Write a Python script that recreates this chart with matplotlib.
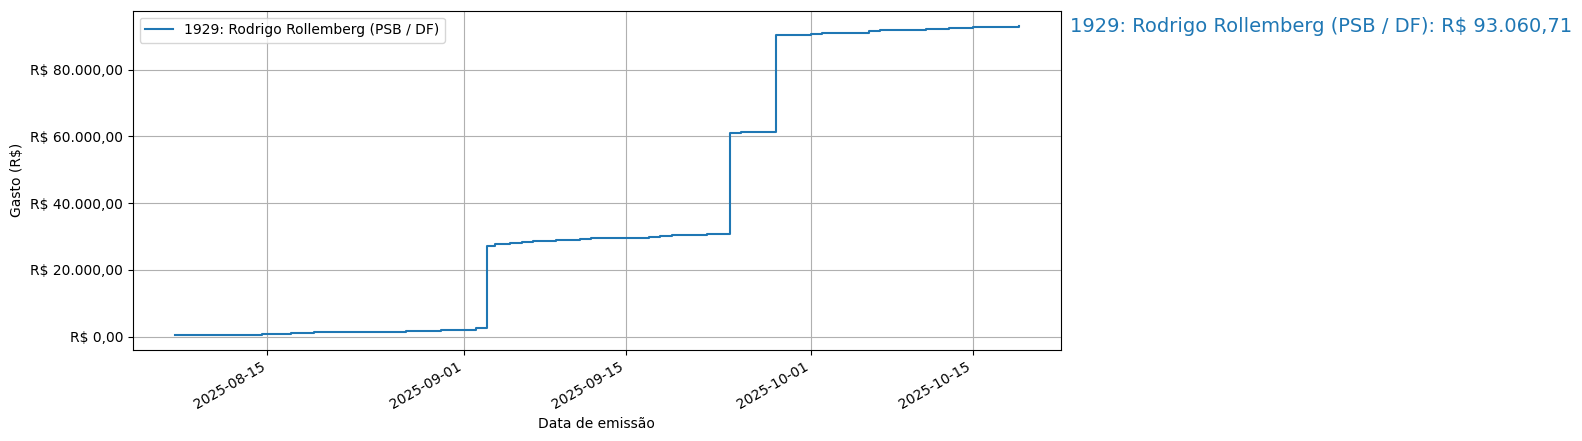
import numpy as np
import pandas as pd
import matplotlib
matplotlib.use("Agg")
import matplotlib.pyplot as plt
import matplotlib.transforms as mtransforms
from matplotlib.ticker import FuncFormatter

nome = "1929: Rodrigo Rollemberg (PSB / DF)"

datas = ["2025-08-07", "2025-08-14 12:00", "2025-08-17", "2025-08-19", "2025-08-27",
         "2025-08-30", "2025-09-02", "2025-09-03", "2025-09-03 16:00", "2025-09-05",
         "2025-09-06", "2025-09-07", "2025-09-09", "2025-09-11", "2025-09-12",
         "2025-09-17", "2025-09-18", "2025-09-19", "2025-09-22", "2025-09-24",
         "2025-09-25", "2025-09-28", "2025-10-01", "2025-10-02", "2025-10-06",
         "2025-10-07", "2025-10-11", "2025-10-13", "2025-10-15", "2025-10-16",
         "2025-10-19"]
gasto_acumulado = [600, 900, 1200, 1500, 1800,
                   2100, 2500, 27040, 27640, 27940,
                   28240, 28550, 28850, 29150, 29550,
                   29850, 30150, 30450, 30750, 60890,
                   61190, 90340, 90640, 91150, 91540,
                   91850, 92150, 92450, 92750, 92950,
                   93060.71]


def brl(v, pos=None):
    s = f"{v:,.2f}".replace(",", "X").replace(".", ",").replace("X", ".")
    return "R$ " + s


x = pd.to_datetime(datas, format="mixed")
y = np.array(gasto_acumulado)

fig = plt.figure(figsize=(15.82, 4.41), dpi=100)
ax = fig.add_axes([0.0839, 0.2063, 0.5868, 0.7694])

ax.step(x, y, where="post", color="tab:blue", label=nome)
ax.yaxis.set_major_formatter(FuncFormatter(brl))
ax.set_xlabel("Data de emissão")
ax.set_ylabel("Gasto (R$)")
ax.grid(True)
ax.legend(loc="upper left")

for lbl in ax.get_xticklabels():
    lbl.set_rotation(30)
    lbl.set_horizontalalignment("right")

trans = mtransforms.blended_transform_factory(ax.transAxes, ax.transData)
ax.text(1.01, y[-1], f"{nome}: {brl(y[-1])}", transform=trans,
        color="tab:blue", fontsize=14, va="center", ha="left")

fig.savefig("out.png", dpi=100)
